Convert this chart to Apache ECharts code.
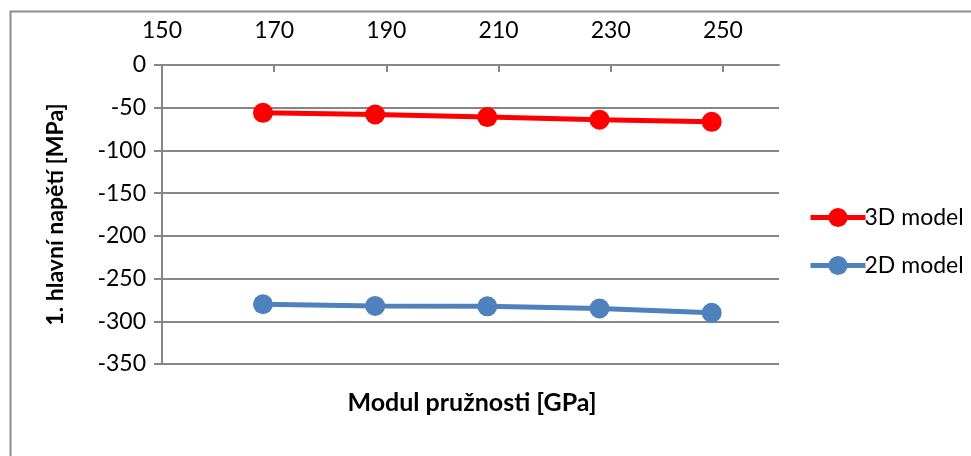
<!DOCTYPE html>
<html>
<head>
<meta charset="utf-8">
<script src="https://cdn.jsdelivr.net/npm/echarts@6/dist/echarts.min.js"></script>
<style>
html, body { margin: 0; padding: 0; background: #fff; }
#myChart { width: 971px; height: 456px; }
</style>
</head>
<body>
<div id="myChart"></div>
<script>
// data
var modulus = [168, 188, 208, 228, 248];
var model3D = [-56, -58, -61, -64, -66.5];
var model2D = [-280, -282, -282.5, -285, -290];
var xLabels = [150, 170, 190, 210, 230, 250];
var xTicks = [170, 190, 210, 230, 250];
var seriesNames = ['3D model', '2D model'];

var font = 'Lato, Calibri, sans-serif';
var gray = '#868686';

function pairs(ys) {
  var out = [];
  for (var i = 0; i < modulus.length; i++) out.push([modulus[i], ys[i]]);
  return out;
}

var myChart = echarts.init(document.getElementById('myChart'));
var option = {
  animation: false,
  textStyle: { fontFamily: font },
  grid: { left: 162, top: 65, width: 617, height: 299 },
  legend: {
    orient: 'vertical',
    left: 803,
    top: 201,
    itemWidth: 55,
    itemHeight: 24,
    itemGap: 25,
    data: seriesNames,
    lineStyle: { width: 5 },
    textStyle: { fontFamily: font, fontSize: 23, color: '#000', padding: [0, 0, 0, -6] }
  },
  xAxis: {
    type: 'value',
    position: 'top',
    min: 150,
    max: 260,
    interval: 20,
    axisLine: { show: true, onZero: false, lineStyle: { color: gray, width: 2 } },
    axisTick: { show: true, inside: true, length: 7, customValues: xTicks, lineStyle: { color: gray, width: 2 } },
    axisLabel: { customValues: xLabels, fontSize: 23, color: '#000', margin: 23, fontFamily: font },
    splitLine: { show: false }
  },
  yAxis: {
    type: 'value',
    min: -350,
    max: 0,
    interval: 50,
    name: '1. hlavní napětí [MPa]',
    nameLocation: 'middle',
    nameRotate: 90,
    nameGap: 95,
    nameTextStyle: { fontFamily: font, fontSize: 23, fontWeight: 'bold', color: '#000' },
    axisLine: { show: true, lineStyle: { color: gray, width: 2 } },
    axisTick: { show: true, length: 8, lineStyle: { color: gray, width: 2 } },
    axisLabel: { fontSize: 23, color: '#000', margin: 16, fontFamily: font },
    splitLine: { show: true, lineStyle: { color: gray, width: 2 } }
  },
  series: [
    {
      name: seriesNames[0],
      type: 'line',
      data: pairs(model3D),
      symbol: 'circle',
      symbolSize: 20,
      lineStyle: { width: 5, color: '#ff0000' },
      itemStyle: { color: '#ff0000' }
    },
    {
      name: seriesNames[1],
      type: 'line',
      data: pairs(model2D),
      symbol: 'circle',
      symbolSize: 20,
      lineStyle: { width: 5, color: '#4f81bd' },
      itemStyle: { color: '#4f81bd' }
    }
  ],
  graphic: [
    {
      type: 'rect',
      shape: { x: 10.5, y: 11.5, width: 1200, height: 800 },
      style: { fill: 'none', stroke: '#8c8c8c', lineWidth: 2 },
      silent: true
    },
    {
      type: 'text',
      x: 472,
      y: 403,
      style: {
        text: 'Modul pružnosti [GPa]',
        font: 'bold 25px ' + font,
        fill: '#000',
        textAlign: 'center',
        textVerticalAlign: 'middle'
      }
    }
  ]
};
myChart.setOption(option);
</script>
</body>
</html>
